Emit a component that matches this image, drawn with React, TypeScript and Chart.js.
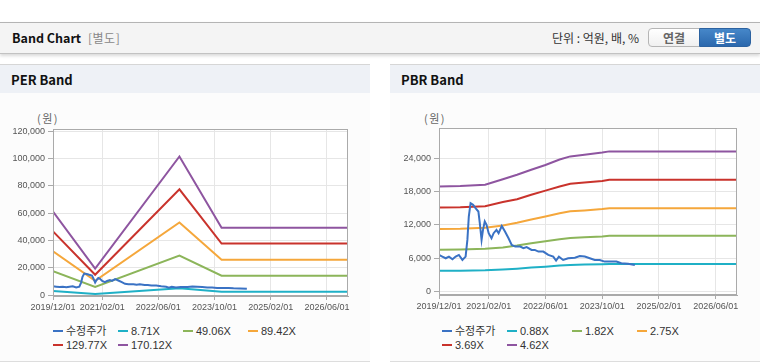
import React, { useEffect, useRef } from 'react';
import { Chart, registerables } from 'chart.js';
Chart.register(...registerables);

// ---------- data ----------
const xTickLabels = ['2019/12/01', '2021/02/01', '2022/06/01', '2023/10/01', '2025/02/01', '2026/06/01'];
const xStart = '2019/12/01';
const xEnd = '2026/12/01';

const priceDates = [
  '2019/12/01', '2019/12/29', '2020/01/28', '2020/02/25', '2020/03/25', '2020/04/22', '2020/05/19', '2020/06/19',
  '2020/07/16', '2020/08/01', '2020/08/13', '2020/08/28', '2020/09/19', '2020/10/10', '2020/11/04', '2020/11/16',
  '2020/12/01', '2020/12/13', '2020/12/28', '2021/01/13', '2021/02/01', '2021/02/25', '2021/03/13', '2021/04/07',
  '2021/04/25', '2021/05/22', '2021/06/19', '2021/07/19', '2021/08/16', '2021/09/16', '2021/10/28', '2021/11/25',
  '2021/12/22', '2022/02/04', '2022/03/01', '2022/04/01', '2022/05/13', '2022/06/25', '2022/08/07', '2022/09/01',
  '2022/09/25', '2022/11/01', '2022/12/13', '2023/02/10', '2023/03/22', '2023/05/04', '2023/06/16', '2023/07/28',
  '2023/09/10', '2023/10/22', '2023/12/19', '2024/02/01', '2024/03/13', '2024/05/10', '2024/07/07',
];
const priceValues = [
  6600, 6300, 6000, 6300, 5830, 6300, 6600, 5700,
  6300, 9300, 13500, 15900, 15600, 15000, 14400, 12300,
  9300, 11100, 12600, 12000, 10500, 9600, 10500, 11100,
  10500, 11800, 10800, 9600, 8400, 8100, 8100, 7800,
  8000, 7500, 7500, 7200, 7200, 6600, 6300, 5580,
  6300, 5700, 6000, 6100, 6400, 6300, 6000, 5700,
  5700, 5400, 5400, 5400, 5100, 5000, 4800,
];

// PER band
const perBandDates = ['2019/12/01', '2020/12/01', '2022/12/01', '2023/12/01', '2026/12/01'];
const per871 = [3100, 1050, 5200, 2550, 2550];
const per4906 = [17600, 6200, 29100, 14300, 14300];
const per8942 = [32200, 10600, 53200, 26000, 26000];
const per12977 = [46700, 15000, 77400, 37800, 37800];
const per17012 = [61200, 19500, 101400, 49400, 49400];
const perLabels = ['수정주가', '8.71X', '49.06X', '89.42X', '129.77X', '170.12X'];
const perYTicks = [0, 20000, 40000, 60000, 80000, 100000, 120000];

// PBR band
const pbrBandDates = [
  '2019/12/01', '2020/06/01', '2021/01/01', '2021/06/01', '2021/10/01', '2022/02/01', '2022/06/01',
  '2022/10/01', '2023/01/01', '2023/05/01', '2023/10/01', '2023/12/01', '2026/12/01',
];
const pbr088 = [3750, 3770, 3830, 3960, 4120, 4320, 4490, 4680, 4800, 4860, 4930, 4970, 4970];
const pbr182 = [7550, 7580, 7700, 7950, 8280, 8680, 9050, 9430, 9660, 9780, 9930, 10050, 10050];
const pbr275 = [11250, 11300, 11480, 11880, 12370, 12970, 13500, 14080, 14440, 14600, 14840, 15000, 15000];
const pbr369 = [15100, 15150, 15350, 16100, 16600, 17400, 18150, 18900, 19400, 19600, 19900, 20100, 20100];
const pbr462 = [18900, 18980, 19200, 20200, 21000, 21900, 22750, 23750, 24300, 24600, 25000, 25200, 25200];
const pbrLabels = ['수정주가', '0.88X', '1.82X', '2.75X', '3.69X', '4.62X'];
const pbrYTicks = [0, 6000, 12000, 18000, 24000];

const seriesColors = ['#3a72c4', '#1fb0c6', '#8cb55a', '#f5a73b', '#c9332c', '#8e55a0'];

// ---------- helpers ----------
const toMonth = (d: string) => {
  const [y, m, day] = d.split('/').map(Number);
  return (y - 2019) * 12 + (m - 12) + (day - 1) / 30;
};
const pts = (dates: string[], vals: number[]) => dates.map((d, i) => ({ x: toMonth(d), y: vals[i] }));
const xTickMonths = xTickLabels.map(toMonth);

const FF = '"Liberation Sans", "Noto Sans CJK KR", sans-serif';
const FF_KR = '"Noto Sans CJK KR", sans-serif';

const framePlugin = {
  id: 'frame',
  beforeDraw(chart: any) {
    const { ctx, chartArea: a } = chart;
    ctx.save();
    ctx.fillStyle = '#ffffff';
    ctx.fillRect(a.left, a.top, a.right - a.left, a.bottom - a.top);
    ctx.restore();
  },
  afterDraw(chart: any) {
    const { ctx, chartArea: a } = chart;
    const x0 = Math.round(a.left) + 0.5;
    const y0 = Math.round(a.top) + 0.5;
    const x1 = Math.round(a.right) - 0.5;
    const y1 = Math.round(a.bottom) - 0.5;
    ctx.save();
    ctx.strokeStyle = '#aaaaaa';
    ctx.lineWidth = 1;
    ctx.strokeRect(x0, y0, x1 - x0, y1 - y0);
    ctx.restore();
  },
};

type BandProps = {
  left: number; top: number; width: number; height: number;
  series: { x: number; y: number }[][];
  labels: string[];
  yMin: number; yMax: number; yTicks: number[];
  yWidth: number; padTop: number; padRight: number;
};

function BandCanvas(p: BandProps) {
  const ref = useRef<HTMLCanvasElement>(null);
  useEffect(() => {
    const chart = new Chart(ref.current as HTMLCanvasElement, {
      type: 'line',
      data: {
        datasets: p.series.map((data, i) => ({
          label: p.labels[i],
          data,
          borderColor: seriesColors[i],
          backgroundColor: seriesColors[i],
          borderWidth: 2,
          pointRadius: 0,
          tension: 0,
          fill: false,
        })),
      },
      options: {
        animation: false,
        responsive: false,
        events: [],
        layout: { padding: { top: p.padTop, right: p.padRight, left: 0, bottom: 0 } },
        plugins: { legend: { display: false }, tooltip: { enabled: false } },
        scales: {
          x: {
            type: 'linear',
            min: toMonth(xStart),
            max: toMonth(xEnd),
            afterBuildTicks: (s: any) => { s.ticks = xTickMonths.map((v) => ({ value: v })); },
            afterFit: (s: any) => { s.height = 22; },
            ticks: {
              autoSkip: false, maxRotation: 0, minRotation: 0, padding: 2, color: '#555',
              font: { family: FF, size: 9 },
              callback: (v: any) => {
                const i = xTickMonths.findIndex((m) => Math.abs(m - Number(v)) < 1e-6);
                return i >= 0 ? xTickLabels[i] : '';
              },
            },
            grid: { color: '#e6e6e6', tickColor: '#aaaaaa', tickLength: 4 },
            border: { color: '#aaaaaa' },
          },
          y: {
            type: 'linear',
            min: p.yMin,
            max: p.yMax,
            afterBuildTicks: (s: any) => { s.ticks = p.yTicks.map((v) => ({ value: v })); },
            afterFit: (s: any) => { s.width = p.yWidth; },
            ticks: {
              padding: 3, color: '#555', font: { family: FF, size: 9 },
              callback: (v: any) => Number(v).toLocaleString('en-US'),
            },
            grid: { color: '#e6e6e6', tickColor: '#aaaaaa', tickLength: 5 },
            border: { color: '#aaaaaa' },
          },
        },
      },
      plugins: [framePlugin],
    } as any);
    return () => chart.destroy();
  }, []);
  return (
    <canvas
      ref={ref}
      width={p.width}
      height={p.height}
      style={{ position: 'absolute', left: p.left, top: p.top, width: p.width, height: p.height }}
    />
  );
}

function Legend({ labels, left, top }: { labels: string[]; left: number; top: number }) {
  return (
    <>
      {labels.map((lab, i) => {
        const col = i % 4;
        const row = Math.floor(i / 4);
        return (
          <div
            key={lab}
            style={{
              position: 'absolute', left: left + col * 65, top: top + row * 14, height: 14,
              display: 'flex', alignItems: 'center', whiteSpace: 'nowrap',
            }}
          >
            <span style={{ display: 'inline-block', width: 10, height: 2, background: seriesColors[i], marginRight: 3 }} />
            <span style={{ fontFamily: FF, fontSize: 11, color: '#333', lineHeight: '14px' }}>{lab}</span>
          </div>
        );
      })}
    </>
  );
}

function Txt(props: { left: number; cy: number; size: number; color: string; bold?: boolean; family?: string; spacing?: number; children: React.ReactNode }) {
  return (
    <div
      style={{
        position: 'absolute', left: props.left, top: props.cy - 10, height: 20, lineHeight: '20px',
        fontSize: props.size, color: props.color, fontWeight: props.bold ? 700 : 400,
        fontFamily: props.family || FF, whiteSpace: 'nowrap', letterSpacing: props.spacing || 0,
      }}
    >
      {props.children}
    </div>
  );
}

function Panel({ left, title }: { left: number; title: string }) {
  return (
    <>
      <div style={{ position: 'absolute', left, top: 64, width: 370, height: 296, background: '#fcfcfc', borderTop: '1px solid #d6d6d6', borderBottom: '1px solid #dddddd' }} />
      <div style={{ position: 'absolute', left, top: 65, width: 370, height: 28, background: '#eef1f6' }} />
      <Txt left={left + 11} cy={80} size={13} color="#111" bold family={FF_KR}>{title}</Txt>
    </>
  );
}

export default function App() {
  const perSeries = [
    pts(priceDates, priceValues),
    pts(perBandDates, per871),
    pts(perBandDates, per4906),
    pts(perBandDates, per8942),
    pts(perBandDates, per12977),
    pts(perBandDates, per17012),
  ];
  const pbrSeries = [
    pts(priceDates, priceValues),
    pts(pbrBandDates, pbr088),
    pts(pbrBandDates, pbr182),
    pts(pbrBandDates, pbr275),
    pts(pbrBandDates, pbr369),
    pts(pbrBandDates, pbr462),
  ];
  return (
    <div style={{ position: 'absolute', left: 0, top: 0, width: 760, height: 364, background: '#fff', overflow: 'hidden', fontFamily: FF }}>
      {/* header */}
      <div style={{ position: 'absolute', left: 0, top: 22, width: 760, height: 30, background: '#f4f4f4', borderTop: '1px solid #b4b4b4', borderBottom: '1px solid #c2c2c2', boxShadow: '0 2px 3px rgba(0,0,0,0.15)' }} />
      <Txt left={12} cy={38} size={12.5} color="#111" bold family={FF_KR}>Band Chart</Txt>
      <Txt left={88} cy={38} size={12} color="#888" family={FF_KR} spacing={0.5}>[별도]</Txt>
      <Txt left={552} cy={38} size={12} color="#333" family={FF_KR}>단위 : 억원, 배, %</Txt>
      <div style={{ position: 'absolute', left: 648, top: 28, width: 50, height: 17, border: '1px solid #b5b5b5', borderRadius: '4px 0 0 4px', background: 'linear-gradient(#ffffff, #f0f0f0)', color: '#666', fontFamily: FF_KR, fontWeight: 700, fontSize: 12, lineHeight: '17px', textAlign: 'center' }}>연결</div>
      <div style={{ position: 'absolute', left: 699, top: 28, width: 50, height: 17, border: '1px solid #2c62a0', borderRadius: '0 4px 4px 0', background: 'linear-gradient(#4687c9, #2b68ad)', color: '#fff', fontFamily: FF_KR, fontWeight: 700, fontSize: 12, lineHeight: '17px', textAlign: 'center' }}>별도</div>

      {/* panels */}
      <Panel left={0} title="PER Band" />
      <Panel left={390} title="PBR Band" />

      <Txt left={37} cy={118} size={11} color="#666" family={FF_KR} spacing={1.5}>(원)</Txt>
      <Txt left={424} cy={118} size={11} color="#666" family={FF_KR} spacing={1.5}>(원)</Txt>

      <BandCanvas
        left={0} top={95} width={370} height={223}
        series={perSeries} labels={perLabels}
        yMin={-500} yMax={121500} yTicks={perYTicks}
        yWidth={53} padTop={34} padRight={22}
      />
      <BandCanvas
        left={390} top={95} width={370} height={222}
        series={pbrSeries} labels={pbrLabels}
        yMin={-600} yMax={29400} yTicks={pbrYTicks}
        yWidth={49} padTop={33} padRight={23}
      />

      <Legend labels={perLabels} left={53} top={324} />
      <Legend labels={pbrLabels} left={442} top={324} />
    </div>
  );
}
